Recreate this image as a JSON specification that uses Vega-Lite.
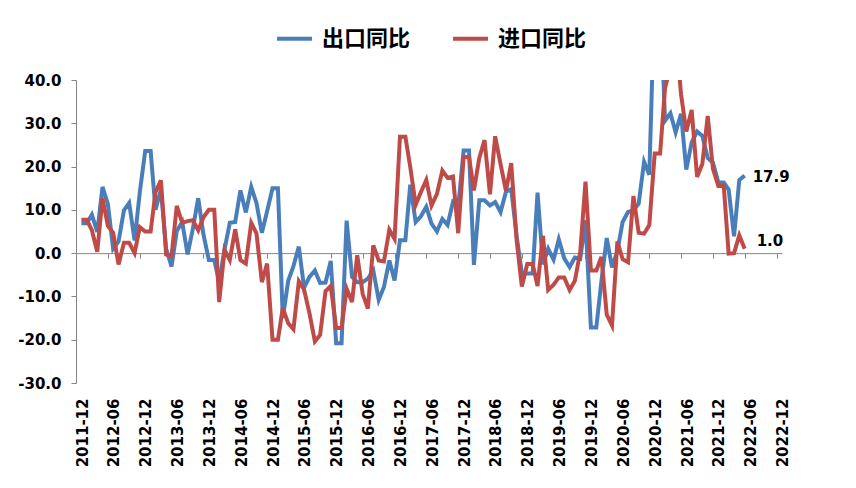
{
  "$schema": "https://vega.github.io/schema/vega-lite/v6.json",
  "width": 706,
  "height": 303,
  "autosize": {"type": "none"},
  "padding": {"left": 76, "top": 80, "right": 74, "bottom": 105},
  "background": "white",
  "data": {"values": [
    {"m":"2012-01","出口同比":6.9,"进口同比":7.7},{"m":"2012-02","出口同比":6.9,"进口同比":7.7},{"m":"2012-03","出口同比":8.9,"进口同比":5.3},{"m":"2012-04","出口同比":4.9,"进口同比":0.3},{"m":"2012-05","出口同比":15.3,"进口同比":12.7},{"m":"2012-06","出口同比":11.3,"进口同比":6.3},{"m":"2012-07","出口同比":1.0,"进口同比":4.7},{"m":"2012-08","出口同比":2.7,"进口同比":-2.6},{"m":"2012-09","出口同比":9.9,"进口同比":2.4},{"m":"2012-10","出口同比":11.6,"进口同比":2.4},{"m":"2012-11","出口同比":2.9,"进口同比":0.0},{"m":"2012-12","出口同比":14.1,"进口同比":6.0},
    {"m":"2013-01","出口同比":23.6,"进口同比":5.0},{"m":"2013-02","出口同比":23.6,"进口同比":5.0},{"m":"2013-03","出口同比":10.0,"进口同比":14.1},{"m":"2013-04","出口同比":14.7,"进口同比":16.8},{"m":"2013-05","出口同比":1.0,"进口同比":-0.3},{"m":"2013-06","出口同比":-3.1,"进口同比":-0.7},{"m":"2013-07","出口同比":5.1,"进口同比":10.9},{"m":"2013-08","出口同比":7.2,"进口同比":7.0},{"m":"2013-09","出口同比":-0.3,"进口同比":7.4},{"m":"2013-10","出口同比":5.6,"进口同比":7.6},{"m":"2013-11","出口同比":12.7,"进口同比":5.3},{"m":"2013-12","出口同比":4.3,"进口同比":8.3},
    {"m":"2014-01","出口同比":-1.6,"进口同比":10.0},{"m":"2014-02","出口同比":-1.6,"进口同比":10.0},{"m":"2014-03","出口同比":-6.6,"进口同比":-11.3},{"m":"2014-04","出口同比":0.9,"进口同比":0.8},{"m":"2014-05","出口同比":7.0,"进口同比":-1.6},{"m":"2014-06","出口同比":7.2,"进口同比":5.5},{"m":"2014-07","出口同比":14.5,"进口同比":-1.6},{"m":"2014-08","出口同比":9.4,"进口同比":-2.4},{"m":"2014-09","出口同比":15.3,"进口同比":7.0},{"m":"2014-10","出口同比":11.6,"进口同比":4.6},{"m":"2014-11","出口同比":4.7,"进口同比":-6.7},{"m":"2014-12","出口同比":9.7,"进口同比":-2.4},
    {"m":"2015-01","出口同比":15.0,"进口同比":-20.0},{"m":"2015-02","出口同比":15.0,"进口同比":-20.0},{"m":"2015-03","出口同比":-15.0,"进口同比":-12.7},{"m":"2015-04","出口同比":-6.4,"进口同比":-16.2},{"m":"2015-05","出口同比":-3.0,"进口同比":-17.6},{"m":"2015-06","出口同比":1.5,"进口同比":-6.5},{"m":"2015-07","出口同比":-8.0,"进口同比":-8.4},{"m":"2015-08","出口同比":-5.5,"进口同比":-13.9},{"m":"2015-09","出口同比":-4.0,"进口同比":-20.4},{"m":"2015-10","出口同比":-6.9,"进口同比":-18.9},{"m":"2015-11","出口同比":-6.8,"进口同比":-8.8},{"m":"2015-12","出口同比":-1.8,"进口同比":-7.6},
    {"m":"2016-01","出口同比":-20.8,"进口同比":-17.3},{"m":"2016-02","出口同比":-20.8,"进口同比":-17.3},{"m":"2016-03","出口同比":7.5,"进口同比":-8.2},{"m":"2016-04","出口同比":-5.5,"进口同比":-11.3},{"m":"2016-05","出口同比":-6.7,"进口同比":-0.5},{"m":"2016-06","出口同比":-6.7,"进口同比":-9.4},{"m":"2016-07","出口同比":-5.9,"进口同比":-12.8},{"m":"2016-08","出口同比":-4.0,"进口同比":1.8},{"m":"2016-09","出口同比":-10.8,"进口同比":-1.7},{"m":"2016-10","出口同比":-7.8,"进口同比":-1.9},{"m":"2016-11","出口同比":-1.7,"进口同比":5.4},{"m":"2016-12","出口同比":-6.3,"进口同比":3.3},
    {"m":"2017-01","出口同比":3.0,"进口同比":26.9},{"m":"2017-02","出口同比":3.0,"进口同比":26.9},{"m":"2017-03","出口同比":15.8,"进口同比":19.9},{"m":"2017-04","出口同比":7.2,"进口同比":11.2},{"m":"2017-05","出口同比":8.5,"进口同比":14.1},{"m":"2017-06","出口同比":10.7,"进口同比":16.9},{"m":"2017-07","出口同比":6.8,"进口同比":11.0},{"m":"2017-08","出口同比":5.0,"进口同比":13.7},{"m":"2017-09","出口同比":7.9,"进口同比":19.1},{"m":"2017-10","出口同比":6.5,"进口同比":17.4},{"m":"2017-11","出口同比":11.8,"进口同比":17.7},{"m":"2017-12","出口同比":10.7,"进口同比":4.6},
    {"m":"2018-01","出口同比":23.7,"进口同比":22.2},{"m":"2018-02","出口同比":23.7,"进口同比":22.2},{"m":"2018-03","出口同比":-2.7,"进口同比":14.5},{"m":"2018-04","出口同比":12.2,"进口同比":22.0},{"m":"2018-05","出口同比":12.2,"进口同比":26.1},{"m":"2018-06","出口同比":11.0,"进口同比":13.6},{"m":"2018-07","出口同比":11.8,"进口同比":27.0},{"m":"2018-08","出口同比":9.5,"进口同比":20.5},{"m":"2018-09","出口同比":14.2,"进口同比":14.4},{"m":"2018-10","出口同比":14.8,"进口同比":20.8},{"m":"2018-11","出口同比":4.0,"进口同比":3.0},{"m":"2018-12","出口同比":-4.6,"进口同比":-7.7},
    {"m":"2019-01","出口同比":-4.7,"进口同比":-2.5},{"m":"2019-02","出口同比":-4.7,"进口同比":-2.5},{"m":"2019-03","出口同比":14.0,"进口同比":-7.6},{"m":"2019-04","出口同比":-2.6,"进口同比":4.0},{"m":"2019-05","出口同比":1.0,"进口同比":-8.5},{"m":"2019-06","出口同比":-1.5,"进口同比":-7.3},{"m":"2019-07","出口同比":3.2,"进口同比":-5.6},{"m":"2019-08","出口同比":-1.2,"进口同比":-5.6},{"m":"2019-09","出口同比":-3.2,"进口同比":-8.5},{"m":"2019-10","出口同比":-1.0,"进口同比":-6.4},{"m":"2019-11","出口同比":-1.3,"进口同比":0.3},{"m":"2019-12","出口同比":7.6,"进口同比":16.5},
    {"m":"2020-01","出口同比":-17.2,"进口同比":-4.0},{"m":"2020-02","出口同比":-17.2,"进口同比":-4.0},{"m":"2020-03","出口同比":-6.6,"进口同比":-0.9},{"m":"2020-04","出口同比":3.5,"进口同比":-14.2},{"m":"2020-05","出口同比":-3.3,"进口同比":-16.7},{"m":"2020-06","出口同比":0.5,"进口同比":2.7},{"m":"2020-07","出口同比":7.2,"进口同比":-1.4},{"m":"2020-08","出口同比":9.5,"进口同比":-2.1},{"m":"2020-09","出口同比":9.9,"进口同比":13.2},{"m":"2020-10","出口同比":11.4,"进口同比":4.7},{"m":"2020-11","出口同比":21.1,"进口同比":4.5},{"m":"2020-12","出口同比":18.1,"进口同比":6.5},
    {"m":"2021-01","出口同比":60.6,"进口同比":23.0},{"m":"2021-02","出口同比":60.6,"进口同比":23.0},{"m":"2021-03","出口同比":30.6,"进口同比":38.1},{"m":"2021-04","出口同比":32.3,"进口同比":43.1},{"m":"2021-05","出口同比":27.9,"进口同比":51.1},{"m":"2021-06","出口同比":32.2,"进口同比":36.7},{"m":"2021-07","出口同比":19.3,"进口同比":28.1},{"m":"2021-08","出口同比":25.6,"进口同比":33.1},{"m":"2021-09","出口同比":28.1,"进口同比":17.6},{"m":"2021-10","出口同比":27.1,"进口同比":20.6},{"m":"2021-11","出口同比":22.0,"进口同比":31.7},{"m":"2021-12","出口同比":20.9,"进口同比":19.5},
    {"m":"2022-01","出口同比":16.3,"进口同比":15.5},{"m":"2022-02","出口同比":16.3,"进口同比":15.5},{"m":"2022-03","出口同比":14.7,"进口同比":-0.1},{"m":"2022-04","出口同比":3.9,"进口同比":0.0},{"m":"2022-05","出口同比":16.9,"进口同比":4.1},{"m":"2022-06","出口同比":17.9,"进口同比":1.0}
  ]},
  "transform": [{"fold": ["出口同比", "进口同比"], "as": ["series", "value"]}],
  "resolve": {"axis": {"x": "independent"}},
  "layer": [
    {
      "mark": {"type": "line", "strokeWidth": 4, "clip": true},
      "encoding": {
        "x": {
          "field": "m", "type": "temporal",
          "scale": {"type": "utc", "domain": [{"year": 2011, "month": 12, "date": 1, "utc": true}, {"year": 2023, "month": 1, "date": 1, "utc": true}]},
          "axis": {
            "orient": "bottom", "title": null, "domain": false, "ticks": false, "tickSize": 0, "grid": false,
            "labelAngle": -90, "labelAlign": "right", "labelBaseline": "middle", "labelPadding": 15, "labelOffset": 6,
            "labelFlush": false, "labelOverlap": false, "labelBound": false,
            "format": "%Y-%m", "labelFont": "DejaVu Sans", "labelFontSize": 15, "labelFontWeight": "bold", "labelColor": "black",
            "values": [
              {"year": 2011, "month": 12, "date": 1, "utc": true},
              {"year": 2012, "month": 6, "date": 1, "utc": true}, {"year": 2012, "month": 12, "date": 1, "utc": true},
              {"year": 2013, "month": 6, "date": 1, "utc": true}, {"year": 2013, "month": 12, "date": 1, "utc": true},
              {"year": 2014, "month": 6, "date": 1, "utc": true}, {"year": 2014, "month": 12, "date": 1, "utc": true},
              {"year": 2015, "month": 6, "date": 1, "utc": true}, {"year": 2015, "month": 12, "date": 1, "utc": true},
              {"year": 2016, "month": 6, "date": 1, "utc": true}, {"year": 2016, "month": 12, "date": 1, "utc": true},
              {"year": 2017, "month": 6, "date": 1, "utc": true}, {"year": 2017, "month": 12, "date": 1, "utc": true},
              {"year": 2018, "month": 6, "date": 1, "utc": true}, {"year": 2018, "month": 12, "date": 1, "utc": true},
              {"year": 2019, "month": 6, "date": 1, "utc": true}, {"year": 2019, "month": 12, "date": 1, "utc": true},
              {"year": 2020, "month": 6, "date": 1, "utc": true}, {"year": 2020, "month": 12, "date": 1, "utc": true},
              {"year": 2021, "month": 6, "date": 1, "utc": true}, {"year": 2021, "month": 12, "date": 1, "utc": true},
              {"year": 2022, "month": 6, "date": 1, "utc": true}, {"year": 2022, "month": 12, "date": 1, "utc": true}
            ]
          }
        },
        "y": {
          "field": "value", "type": "quantitative", "title": null,
          "scale": {"domain": [-30, 40], "nice": false, "zero": false},
          "axis": {
            "values": [-30, -20, -10, 0, 10, 20, 30, 40], "grid": false,
            "domainColor": "#868686", "tickColor": "#868686", "tickSize": 5, "labelPadding": 10,
            "labelFont": "DejaVu Sans", "labelFontSize": 15, "labelFontWeight": "bold", "labelColor": "black",
            "labelExpr": "replace(format(datum.value, '.1f'), '\u2212', '-')"
          }
        },
        "color": {
          "field": "series", "type": "nominal",
          "scale": {"domain": ["出口同比", "进口同比"], "range": ["#4A7EBB", "#BE4B48"]},
          "legend": {
            "orient": "none", "legendX": 199, "legendY": -61, "direction": "horizontal", "title": null,
            "symbolType": "stroke", "symbolSize": 1225, "symbolStrokeWidth": 4,
            "labelFont": "Noto Sans CJK SC", "labelFontSize": 22, "labelFontWeight": "bold", "labelColor": "black",
            "labelOffset": 8, "columnPadding": 34, "padding": 0
          }
        }
      }
    },
    {
      "transform": [{"filter": "datum.series === '出口同比' && datum.value === 17.9"}],
      "mark": {"type": "text", "align": "left", "baseline": "middle", "dx": 8, "dy": 1, "font": "DejaVu Sans", "fontSize": 15, "fontWeight": "bold", "color": "black"},
      "encoding": {
        "x": {
          "field": "m", "type": "temporal",
          "axis": {
            "orient": "bottom", "offset": -129.86, "title": null, "labels": false, "grid": false,
            "domain": true, "domainColor": "#868686", "domainWidth": 1,
            "ticks": true, "tickSize": 5, "tickColor": "#868686", "tickWidth": 1,
            "values": [
              {"year": 2011, "month": 12, "date": 1, "utc": true},
              {"year": 2012, "month": 6, "date": 1, "utc": true}, {"year": 2012, "month": 12, "date": 1, "utc": true},
              {"year": 2013, "month": 6, "date": 1, "utc": true}, {"year": 2013, "month": 12, "date": 1, "utc": true},
              {"year": 2014, "month": 6, "date": 1, "utc": true}, {"year": 2014, "month": 12, "date": 1, "utc": true},
              {"year": 2015, "month": 6, "date": 1, "utc": true}, {"year": 2015, "month": 12, "date": 1, "utc": true},
              {"year": 2016, "month": 6, "date": 1, "utc": true}, {"year": 2016, "month": 12, "date": 1, "utc": true},
              {"year": 2017, "month": 6, "date": 1, "utc": true}, {"year": 2017, "month": 12, "date": 1, "utc": true},
              {"year": 2018, "month": 6, "date": 1, "utc": true}, {"year": 2018, "month": 12, "date": 1, "utc": true},
              {"year": 2019, "month": 6, "date": 1, "utc": true}, {"year": 2019, "month": 12, "date": 1, "utc": true},
              {"year": 2020, "month": 6, "date": 1, "utc": true}, {"year": 2020, "month": 12, "date": 1, "utc": true},
              {"year": 2021, "month": 6, "date": 1, "utc": true}, {"year": 2021, "month": 12, "date": 1, "utc": true},
              {"year": 2022, "month": 6, "date": 1, "utc": true}, {"year": 2022, "month": 12, "date": 1, "utc": true}
            ]
          }
        },
        "y": {"field": "value", "type": "quantitative", "title": null},
        "text": {"field": "value", "type": "quantitative", "format": ".1f"}
      }
    },
    {
      "transform": [{"filter": "datum.series === '进口同比' && datum.value === 1.0"}],
      "mark": {"type": "text", "align": "left", "baseline": "middle", "dx": 12, "dy": -8, "font": "DejaVu Sans", "fontSize": 15, "fontWeight": "bold", "color": "black"},
      "encoding": {
        "x": {"field": "m", "type": "temporal", "axis": null},
        "y": {"field": "value", "type": "quantitative", "title": null},
        "text": {"field": "value", "type": "quantitative", "format": ".1f"}
      }
    }
  ],
  "config": {"view": {"stroke": null}}
}
